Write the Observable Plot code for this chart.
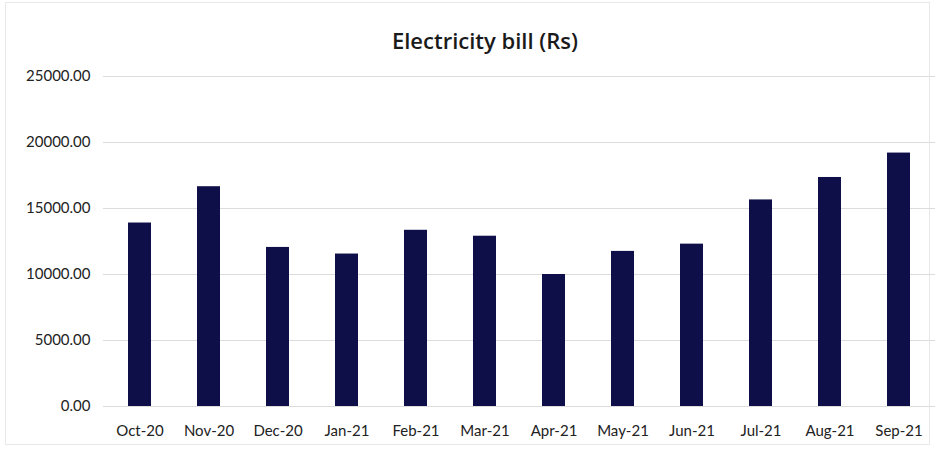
<!DOCTYPE html>
<html>
<head>
<meta charset="utf-8">
<script src="https://cdn.jsdelivr.net/npm/d3@7"></script>
<script src="https://cdn.jsdelivr.net/npm/@observablehq/plot@0.6"></script>
<style>
  html, body { margin: 0; padding: 0; background: #fff; }
  #wrap { position: relative; width: 937px; height: 449px; overflow: hidden; font-family: Lato, "Open Sans", sans-serif; }
  #frame { position: absolute; left: 5px; top: 2px; width: 925px; height: 443px; border: 1px solid #e8e8e8; box-sizing: border-box; pointer-events: none; }
  #title { position: absolute; left: 0; top: 0; width: 970px; height: 60px; line-height: 80px; text-align: center; font-family: "Open Sans", sans-serif; font-size: 22px; font-weight: 600; color: #1a1a1a; }
  #chart { position: absolute; left: 0; top: 60px; }
</style>
</head>
<body>
<div id="wrap">
  <div id="frame"></div>
  <div id="title">Electricity bill (Rs)</div>
  <div id="chart"></div>
</div>
<script>
const months = ["Oct-20","Nov-20","Dec-20","Jan-21","Feb-21","Mar-21","Apr-21","May-21","Jun-21","Jul-21","Aug-21","Sep-21"];
const bills = [13900, 16650, 12050, 11550, 13350, 12900, 10000, 11750, 12300, 15650, 17350, 19200];
const yTicks = [0, 5000, 10000, 15000, 20000, 25000];

const data = months.map((m, i) => ({month: m, bill: bills[i]}));

const plot = Plot.plot({
  width: 937,
  height: 389,
  marginTop: 16,
  marginBottom: 43,
  marginLeft: 103,
  marginRight: 2,
  style: {fontFamily: "Lato, 'Open Sans', sans-serif", fontSize: "15px", color: "#222", background: "transparent"},
  x: {domain: months, paddingInner: 0.668, paddingOuter: 0.34, label: null, tickSize: 0, tickPadding: 19},
  y: {domain: [0, 25000], ticks: yTicks, label: null, tickSize: 0, tickPadding: 13, tickFormat: d => d.toFixed(2)},
  marks: [
    Plot.gridY(yTicks, {stroke: "#dcdcdc", strokeOpacity: 1}),
    Plot.barY(data, {x: "month", y: "bill", fill: "#0e0e48"})
  ]
});
document.getElementById("chart").appendChild(plot);
</script>
</body>
</html>
